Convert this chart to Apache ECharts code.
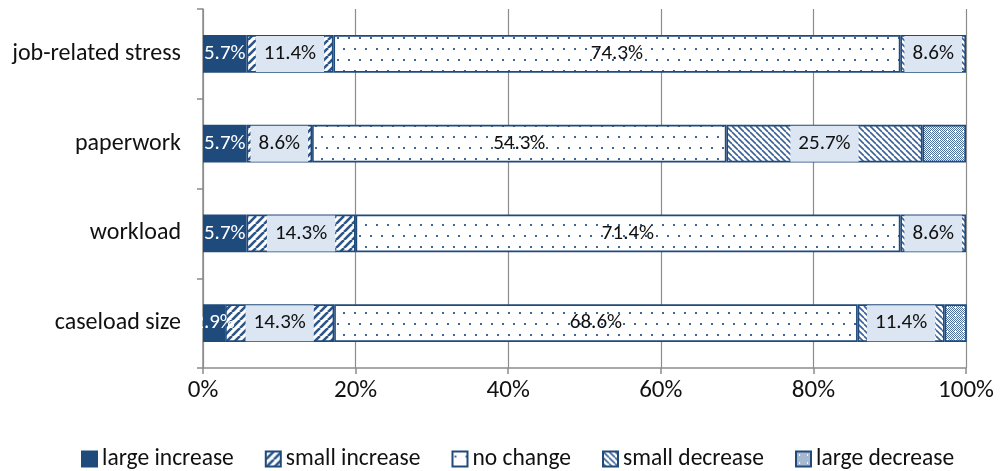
<!DOCTYPE html>
<html><head><meta charset="utf-8">
<script src="https://cdn.jsdelivr.net/npm/echarts@6/dist/echarts.min.js"></script>
<style>html,body{margin:0;padding:0;background:#fff}#c{width:1000px;height:471px}</style>
</head><body><div id="c"></div>
<script>
var categories = ['job-related stress', 'paperwork', 'workload', 'caseload size'];
var seriesNames = ['large increase', 'small increase', 'no change', 'small decrease', 'large decrease'];
var largeIncrease = [5.7, 5.7, 5.7, 2.9];
var smallIncrease = [11.4, 8.6, 14.3, 14.3];
var noChange = [74.3, 54.3, 71.4, 68.6];
var smallDecrease = [8.6, 25.7, 8.6, 11.4];
var largeDecrease = [0, 5.7, 0, 2.9];
var xTicks = ['0%', '20%', '40%', '60%', '80%', '100%'];

var BLUE = '#1f4a7c';
function tile(w, h, draw) {
  var c = document.createElement('canvas'); c.width = w; c.height = h;
  var g = c.getContext('2d'); g.fillStyle = '#fff'; g.fillRect(0, 0, w, h);
  draw(g); return { image: c, repeat: 'repeat' };
}
var patSmallInc = tile(8, 8, function (g) {
  g.strokeStyle = '#2c5587'; g.lineWidth = 2.6;
  for (var k = -16; k <= 16; k += 8) { g.beginPath(); g.moveTo(k, 8); g.lineTo(k + 8, 0); g.stroke(); }
});
var patNoChange = tile(11, 22, function (g) {
  g.fillStyle = '#3f6699';
  g.fillRect(2, 4, 2, 2); g.fillRect(7, 15, 2, 2);
});
var patSmallDec = tile(6, 6, function (g) {
  g.strokeStyle = '#3a6296'; g.lineWidth = 1.6;
  for (var k = -12; k <= 12; k += 6) { g.beginPath(); g.moveTo(k, 0); g.lineTo(k + 6, 6); g.stroke(); }
});
var patLargeDec = tile(8, 8, function (g) {
  g.fillStyle = '#4f72a3';
  for (var y = 0; y < 8; y++) for (var x = 0; x < 8; x++) if ((x + y) % 2 === 0) g.fillRect(x, y, 1, 1);
  g.fillStyle = '#fff'; g.fillRect(3, 2, 1, 3); g.fillRect(2, 3, 3, 1);
});

var allData = [largeIncrease, smallIncrease, noChange, smallDecrease, largeDecrease];
var fills = [BLUE, patSmallInc, patNoChange, patSmallDec, patLargeDec];
var FONT = 'Carlito, Lato, sans-serif';
var boxed = [false, true, false, true, false];

var series = seriesNames.map(function (name, i) {
  return {
    name: name, type: 'bar', stack: 'total', barWidth: '42%',
    data: allData[i].map(function (v) { return v === 0 ? null : v; }),
    itemStyle: { color: fills[i], borderColor: BLUE, borderWidth: 1.6 },
    label: {
      show: i < 4, position: 'inside', fontFamily: FONT, fontSize: 21, lineHeight: 24,
      color: i === 0 ? '#fff' : '#111',
      backgroundColor: boxed[i] ? '#dce6f2' : 'transparent',
      padding: boxed[i] ? [7, 8, 5, 8] : 0,
      formatter: function (p) { return p.value.toFixed(1) + '%'; }
    },
    emphasis: { disabled: true }
  };
});

var chart = echarts.init(document.getElementById('c'), null, { renderer: 'canvas' });
chart.setOption({
  animation: false,
  backgroundColor: '#fff',
  grid: { left: 203, right: 34, top: 9, bottom: 103 },
  xAxis: {
    type: 'value', min: 0, max: 100, interval: 20,
    axisLine: { show: true, lineStyle: { color: '#8c8c8c', width: 1.5 } },
    axisTick: { show: true, inside: false, length: 6, lineStyle: { color: '#8c8c8c', width: 1.5 } },
    splitLine: { show: true, lineStyle: { color: '#8c8c8c', width: 1.2 } },
    axisLabel: {
      fontFamily: FONT, fontSize: 25, color: '#111', margin: 10,
      formatter: function (v) { return xTicks[Math.round(v / 20)]; }
    }
  },
  yAxis: {
    type: 'category', data: categories, inverse: true,
    axisLine: { show: true, lineStyle: { color: '#8c8c8c', width: 1.5 } },
    axisTick: { show: true, length: 6, lineStyle: { color: '#8c8c8c', width: 1.5 } },
    axisLabel: { fontFamily: FONT, fontSize: 24, color: '#111', margin: 22 }
  },
  legend: {
    top: 442, left: 76, itemWidth: 15, itemHeight: 15, itemGap: 31,
    icon: 'rect',
    textStyle: { fontFamily: FONT, fontSize: 23.5, color: '#111' },
    data: seriesNames
  },
  series: series
});
</script></body></html>
